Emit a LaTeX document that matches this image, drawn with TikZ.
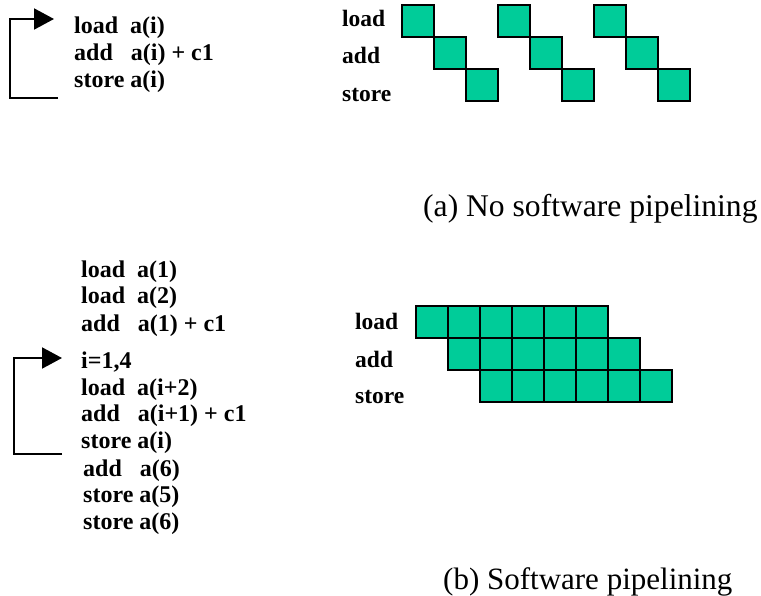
\documentclass[tikz,border=0pt]{standalone}
\usepackage{fontspec}
\setmainfont{Liberation Serif}
\usetikzlibrary{arrows.meta}
\definecolor{cellgreen}{RGB}{0,204,153}
\tikzset{
  code/.style={anchor=base west, inner sep=0pt, font=\fontsize{24}{28}\selectfont\bfseries},
  rowlabel/.style={anchor=base west, inner sep=0pt, font=\fontsize{23.5}{28}\selectfont\bfseries},
  caption/.style={anchor=base west, inner sep=0pt, font=\fontsize{31.6}{36}\selectfont},
  cell/.style={draw=black, line width=2pt, fill=cellgreen, minimum size=32pt,
    inner sep=0pt, outer sep=0pt, anchor=north west},
  looparrow/.style={line width=2pt, -{Triangle[length=20pt, width=21pt]}}
}
\begin{document}
\begin{tikzpicture}[x=1pt, y=-1pt]
\useasboundingbox (0,0) rectangle (761,596);

% ---------- (a) plain loop ----------
\node[code] (ta1) at (74,34) {load\ \ a(i)};
\node[code] (ta2) at (74,61) {add\ \ \ a(i) + c1};
\node[code] (ta3) at (74,88) {store a(i)};
\coordinate (taEnd) at (58,98);
\coordinate (taTip) at (54,19);
\draw[looparrow] (taEnd) -- ++(-48,0) |- (taTip);

\node[rowlabel] (la1) at (342,27) {load};
\node[rowlabel] (la2) at (342,64) {add};
\node[rowlabel] (la3) at (342,102) {store};

\foreach \g in {0,1,2}{
  \node[cell] (ga\g l) at ({402+96*\g},5) {};
  \node[cell] (ga\g a) at ({434+96*\g},37) {};
  \node[cell] (ga\g s) at ({466+96*\g},69) {};
}

\node[caption] (capa) at (423,217) {(a) No software pipelining};

% ---------- (b) software-pipelined loop ----------
\node[code] (tb1) at (81,278) {load\ \ a(1)};
\node[code] (tb2) at (81,304) {load\ \ a(2)};
\node[code] (tb3) at (81,331) {add\ \ \ a(1) + c1};
\node[code] (tb4) at (81,368) {i=1,4};
\node[code] (tb5) at (81,395) {load\ \ a(i+2)};
\node[code] (tb6) at (81,421) {add\ \ \ a(i+1) + c1};
\node[code] (tb7) at (81,448) {store a(i)};
\node[code] (tb8) at (83,476) {add\ \ \ a(6)};
\node[code] (tb9) at (83,502) {store a(5)};
\node[code] (tb10) at (83,529) {store a(6)};
\coordinate (tbEnd) at (62,454);
\coordinate (tbTip) at (62,358);
\draw[looparrow] (tbEnd) -- ++(-48,0) |- (tbTip);

\node[rowlabel] (lb1) at (355,330) {load};
\node[rowlabel] (lb2) at (355,367) {add};
\node[rowlabel] (lb3) at (355,403) {store};

\foreach \k in {0,...,5}{
  \node[cell] (gbl\k) at ({416+32*\k},306) {};
  \node[cell] (gba\k) at ({448+32*\k},338) {};
  \node[cell] (gbs\k) at ({480+32*\k},370) {};
}

\node[caption, font=\fontsize{31}{36}\selectfont] (capb) at (443,589) {(b) Software pipelining};
\end{tikzpicture}
\end{document}
